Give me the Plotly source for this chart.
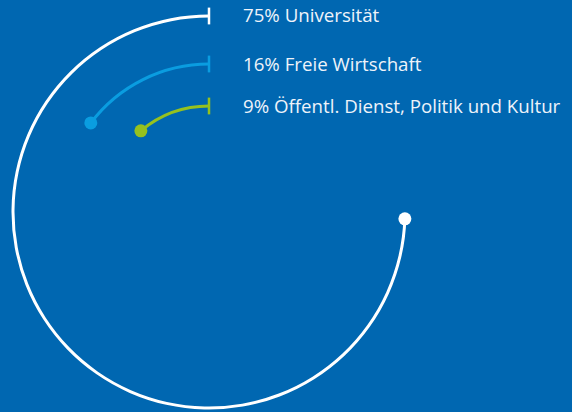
import plotly.graph_objects as go

# Data
labels = ["75% Universität", "16% Freie Wirtschaft", "9% Öffentl. Dienst, Politik und Kultur"]
shares = [75, 16, 9]
arc_end_deg = [268, 53, 40]          # drawn arc extent (counter-clockwise from 12 o'clock)
ring_radius = [196, 148, 106]
colors = ["#ffffff", "#0a9de0", "#95c11f"]

BG = "#0067b1"
W, H = 572, 412
R_MAX = 200
thick = 3

fig = go.Figure()

for lab, end, rr, col in zip(labels, arc_end_deg, ring_radius, colors):
    # arc as a thin polar bar
    fig.add_trace(go.Barpolar(
        r=[thick], base=[rr - thick / 2], theta=[end / 2], width=[end],
        marker=dict(color=col, line=dict(width=0)),
        hoverinfo="skip", showlegend=False))
    # end dot
    fig.add_trace(go.Scatterpolar(
        r=[rr], theta=[end], mode="markers",
        marker=dict(size=13, color=col), hoverinfo="skip", showlegend=False))
    # start tick
    fig.add_trace(go.Scatterpolar(
        r=[rr], theta=[0], mode="markers",
        marker=dict(symbol="line-ns", size=12, color=col,
                    line=dict(width=2.5, color=col)),
        hoverinfo="skip", showlegend=False))

# polar domain: center at (209, 212) px, radius 200 px
cx, cy_top = 209, 212
dom_x = [(cx - R_MAX) / W, (cx + R_MAX) / W]
dom_y = [(H - cy_top - R_MAX) / H, (H - cy_top + R_MAX) / H]

fig.update_layout(
    width=W, height=H,
    margin=dict(l=0, r=0, t=0, b=0),
    paper_bgcolor=BG, plot_bgcolor=BG,
    polar=dict(
        domain=dict(x=dom_x, y=dom_y),
        bgcolor="rgba(0,0,0,0)",
        angularaxis=dict(rotation=90, direction="counterclockwise",
                         visible=False, showgrid=False, showline=False),
        radialaxis=dict(range=[0, R_MAX], visible=False, showgrid=False,
                        showline=False),
    ),
)

for lab, rr in zip(labels, ring_radius):
    ypix = cy_top - rr - 1
    fig.add_annotation(
        x=241 / W, y=1 - ypix / H, xref="paper", yref="paper",
        text=lab, showarrow=False, xanchor="left", yanchor="middle",
        font=dict(family="Open Sans", size=18.7, color="#eef3fa"))

fig.write_html("out.html",
               config={"displayModeBar": False},
               post_script="document.body.style.margin='0';document.body.style.background='%s';" % BG)
